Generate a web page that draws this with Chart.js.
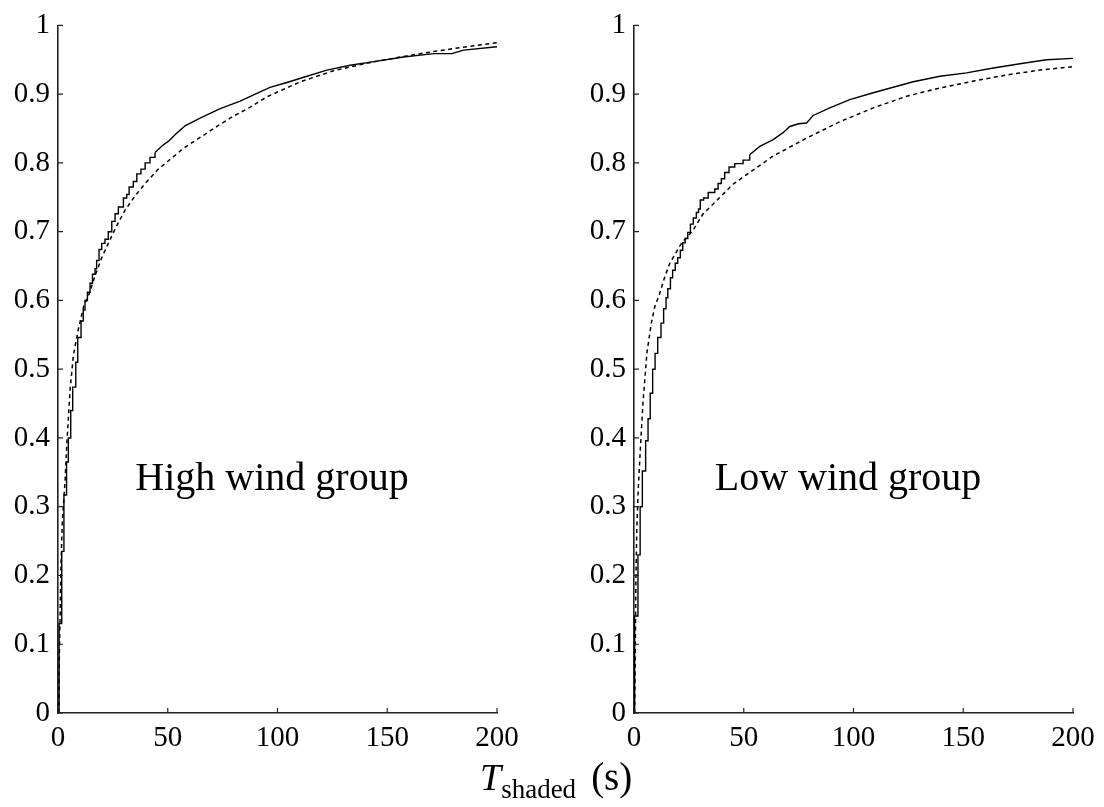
<!DOCTYPE html>
<html>
<head>
<meta charset="utf-8">
<script src="https://cdn.jsdelivr.net/npm/chart.js@4.4.1/dist/chart.umd.min.js"></script>
<style>
  body { margin: 0; background: #fff; }
  #wrap { position: relative; width: 1104px; height: 807px; overflow: hidden; }
  canvas { position: absolute; top: 0; }
  #xtitle { position: absolute; left: 480px; top: 758px; font-family: "Liberation Serif", serif; font-size: 38px; line-height: 38px; color: #000; white-space: nowrap; }
  #xtitle .sub { font-size: 27px; position: relative; top: 8px; }
  #xtitle .unit { margin-left: 15px; font-size: 39px; }
</style>
</head>
<body>
<div id="wrap">
  <canvas id="highWind" width="527" height="760" style="left:0"></canvas>
  <canvas id="lowWind" width="528" height="760" style="left:576px"></canvas>
  <div id="xtitle"><i>T</i><span class="sub">shaded</span><span class="unit">(s)</span></div>
</div>
<script>
// axis ticks
const xTicks = [0, 50, 100, 150, 200];
const xTickLabels = ['0', '50', '100', '150', '200'];
const yTicks = [0, 0.1, 0.2, 0.3, 0.4, 0.5, 0.6, 0.7, 0.8, 0.9, 1];
const yTickLabels = ['0', '0.1', '0.2', '0.3', '0.4', '0.5', '0.6', '0.7', '0.8', '0.9', '1'];

// high wind group: empirical cdf, stepped part
const highStepX = [0.5, 0.5, 1.7, 2.7, 3.9, 4.7, 5.8, 6.7, 8.1, 9.0, 10.5, 11.5, 12.3, 13.4, 14.6, 15.7, 16.9, 17.6, 18.7, 19.9, 21.4, 22.9, 24.5, 26.0, 27.5, 29.8, 31.3, 32.4, 34.3, 35.9, 37.8, 39.7, 41.9, 44.2];
const highStepY = [0, 0.13, 0.235, 0.317, 0.365, 0.40, 0.44, 0.474, 0.51, 0.546, 0.57, 0.586, 0.60, 0.612, 0.625, 0.638, 0.646, 0.658, 0.674, 0.683, 0.689, 0.70, 0.715, 0.726, 0.736, 0.749, 0.754, 0.765, 0.773, 0.784, 0.791, 0.80, 0.808, 0.815];
// high wind group: empirical cdf, tail
const highTailX = [44.2, 47.5, 50.5, 54.0, 57.9, 64.7, 73.9, 83, 90.6, 96.6, 104.3, 113.4, 122.5, 133.1, 145.3, 157.4, 171.1, 179.5, 184.8, 200];
const highTailY = [0.815, 0.825, 0.832, 0.843, 0.854, 0.865, 0.879, 0.890, 0.901, 0.910, 0.917, 0.926, 0.935, 0.942, 0.948, 0.954, 0.959, 0.959, 0.964, 0.969];
// high wind group: fitted cdf
const highFitX = [0.3, 0.6, 1.0, 1.4, 2.0, 3.2, 4.0, 5.5, 7.0, 9.2, 11.9, 13.8, 16.9, 19.9, 22.9, 26.8, 30.5, 35.1, 39.7, 45.7, 51.8, 57.1, 64.7, 72.4, 79.9, 87, 95.1, 110.4, 125.5, 140.7, 155.9, 171.1, 186.3, 200];
const highFitY = [0, 0.08, 0.15, 0.22, 0.28, 0.336, 0.39, 0.47, 0.52, 0.557, 0.594, 0.606, 0.636, 0.662, 0.683, 0.709, 0.731, 0.752, 0.77, 0.791, 0.807, 0.821, 0.837, 0.853, 0.868, 0.880, 0.896, 0.918, 0.934, 0.945, 0.954, 0.962, 0.969, 0.975];

// low wind group: empirical cdf, stepped part
const lowStepX = [0.3, 0.3, 1.8, 2.8, 3.8, 5.3, 6.4, 7.4, 8.5, 9.6, 10.8, 12.3, 13.5, 14.6, 15.4, 16.6, 17.6, 18.8, 19.9, 21.1, 22.2, 23.3, 24.5, 25.7, 27.0, 28.4, 29.4, 30.2, 31.7, 33.8, 36.8, 38.3, 39.8, 41.3, 43.3, 45.9, 49.7, 52.7];
const lowStepY = [0, 0.141, 0.23, 0.30, 0.352, 0.396, 0.428, 0.465, 0.50, 0.523, 0.546, 0.567, 0.588, 0.604, 0.617, 0.633, 0.644, 0.654, 0.662, 0.673, 0.684, 0.69, 0.699, 0.711, 0.72, 0.728, 0.733, 0.746, 0.749, 0.757, 0.762, 0.77, 0.777, 0.786, 0.794, 0.799, 0.804, 0.812];
// low wind group: empirical cdf, tail
const lowTailX = [52.7, 57.3, 63.4, 67.9, 71, 75, 78.6, 81.6, 89.2, 98.3, 109, 118.1, 127.2, 139.4, 151.5, 163.7, 177.3, 188, 200];
const lowTailY = [0.812, 0.824, 0.834, 0.844, 0.853, 0.857, 0.858, 0.869, 0.880, 0.892, 0.902, 0.910, 0.918, 0.926, 0.931, 0.938, 0.945, 0.950, 0.952];
// low wind group: fitted cdf
const lowFitX = [0.3, 0.6, 0.9, 1.3, 2.0, 3.0, 4.1, 5.9, 7.9, 9.4, 11.7, 14, 16.3, 21.6, 26.9, 31.5, 37.6, 45.1, 55.8, 63.4, 78.6, 93.8, 109, 124.2, 139.4, 154.6, 169.8, 185, 200];
const lowFitY = [0, 0.1, 0.2, 0.27, 0.33, 0.39, 0.452, 0.524, 0.567, 0.59, 0.61, 0.634, 0.654, 0.683, 0.702, 0.726, 0.745, 0.769, 0.793, 0.810, 0.836, 0.860, 0.880, 0.897, 0.909, 0.919, 0.928, 0.935, 0.940];

const serif = '"Liberation Serif", "Times New Roman", serif';
const axisColor = '#222';

function toPoints(xs, ys) {
    return xs.map((x, i) => ({ x: x, y: ys[i] }));
}

// tick marks drawn inside the plot, as in the original
const innerTicks = {
    id: 'innerTicks',
    afterDraw(chart) {
        const { ctx, scales: { x, y } } = chart;
        ctx.save();
        ctx.strokeStyle = axisColor;
        ctx.lineWidth = 1.2;
        ctx.beginPath();
        x.ticks.forEach(t => {
            const px = x.getPixelForValue(t.value);
            ctx.moveTo(px, y.bottom);
            ctx.lineTo(px, y.bottom - 5);
        });
        y.ticks.forEach(t => {
            const py = y.getPixelForValue(t.value);
            ctx.moveTo(x.left, py);
            ctx.lineTo(x.left + 5, py);
        });
        ctx.stroke();
        ctx.restore();
    }
};

function groupLabel(text) {
    return {
        id: 'groupLabel',
        afterDatasetsDraw(chart) {
            const { ctx, scales: { x, y } } = chart;
            ctx.save();
            ctx.font = '40px ' + serif;
            ctx.fillStyle = '#000';
            ctx.textAlign = 'center';
            ctx.textBaseline = 'alphabetic';
            ctx.fillText(text, x.getPixelForValue(97.5), y.getPixelForValue(0.325));
            ctx.restore();
        }
    };
}

function makeChart(id, label, stepX, stepY, tailX, tailY, fitX, fitY, padRight) {
    const ctx = document.getElementById(id).getContext('2d');
    return new Chart(ctx, {
        type: 'line',
        data: {
            datasets: [{
                data: toPoints(stepX, stepY),
                borderColor: '#000',
                borderWidth: 1.4,
                stepped: true,
                pointRadius: 0,
            }, {
                data: toPoints(tailX, tailY),
                borderColor: '#000',
                borderWidth: 1.4,
                pointRadius: 0,
                tension: 0,
            }, {
                data: toPoints(fitX, fitY),
                borderColor: '#000',
                borderWidth: 1.5,
                borderDash: [4, 3.5],
                pointRadius: 0,
                tension: 0,
            }],
        },
        options: {
            responsive: false,
            animation: false,
            layout: {
                padding: { top: 20, right: padRight, left: 0, bottom: 0 },
            },
            plugins: {
                legend: { display: false },
                tooltip: { enabled: false },
            },
            scales: {
                x: {
                    type: 'linear',
                    min: 0,
                    max: 200,
                    afterBuildTicks: s => { s.ticks = xTicks.map(v => ({ value: v })); },
                    afterFit: s => { s.height = 47; },
                    grid: { display: false, drawTicks: false },
                    border: { color: axisColor, width: 1.6 },
                    ticks: {
                        color: '#000',
                        font: { family: serif, size: 29 },
                        padding: 8,
                        maxRotation: 0,
                        autoSkip: false,
                        callback: (v, i) => xTickLabels[i],
                    },
                },
                y: {
                    type: 'linear',
                    min: 0,
                    max: 1,
                    afterBuildTicks: s => { s.ticks = yTicks.map(v => ({ value: v })); },
                    afterFit: s => { s.width = 58; },
                    grid: { display: false, drawTicks: false },
                    border: { color: axisColor, width: 1.6 },
                    ticks: {
                        color: '#000',
                        font: { family: serif, size: 29 },
                        padding: 8,
                        autoSkip: false,
                        callback: (v, i) => yTickLabels[i],
                    },
                },
            },
        },
        plugins: [innerTicks, groupLabel(label)],
    });
}

makeChart('highWind', 'High wind group', highStepX, highStepY, highTailX, highTailY, highFitX, highFitY, 30);
makeChart('lowWind', 'Low wind group', lowStepX, lowStepY, lowTailX, lowTailY, lowFitX, lowFitY, 31);
</script>
</body>
</html>
